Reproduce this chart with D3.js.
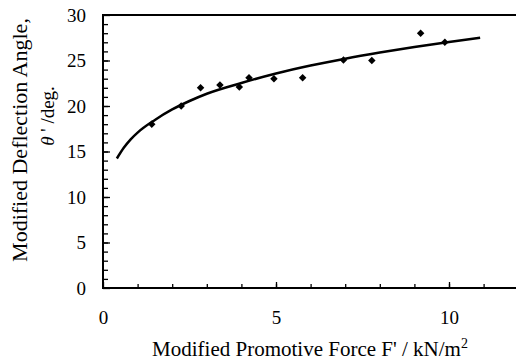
<!DOCTYPE html>
<html><head><meta charset="utf-8">
<script src="https://cdn.jsdelivr.net/npm/d3@7"></script>
<style>body{margin:0;background:#fff}svg{display:block}
text{font-family:"Liberation Serif","Times New Roman","DejaVu Serif",serif;}</style>
</head><body>
<svg id="c" width="516" height="362"></svg>
<script>
// measured data points
const forceX = [1.41, 2.26, 2.82, 3.38, 3.94, 4.22, 4.94, 5.77, 6.95, 7.77, 9.18, 9.88];
const angleY = [18.0, 20.0, 22.0, 22.3, 22.1, 23.1, 23.0, 23.1, 25.05, 25.0, 28.0, 27.0];
// fitted curve
const curveX = [0.4, 0.6, 0.8, 1, 1.5, 2, 2.5, 3, 4, 5, 6, 7, 8, 9, 10, 10.9];
const curveY = [14.23, 15.41, 16.34, 17.08, 18.47, 19.62, 20.55, 21.35, 22.53, 23.57, 24.44, 25.2, 25.87, 26.48, 27.04, 27.51];
const xTickLabels = [0, 5, 10];
const yTickLabels = [0, 5, 10, 15, 20, 25, 30];

const svg = d3.select('#c');
const x = d3.scaleLinear().domain([0, 12]).range([103, 518.2]);
const y = d3.scaleLinear().domain([0, 30]).range([288, 15]);
const font = '"Liberation Serif", "Times New Roman", serif';

// minor ticks
svg.append('g').attr('transform', 'translate(0,288)')
  .call(d3.axisBottom(x).tickValues(d3.range(1, 12)).tickSize(-4).tickFormat(''))
  .call(g => g.select('.domain').remove())
  .call(g => g.selectAll('line').attr('stroke', '#000').attr('stroke-width', 1.3));
svg.append('g').attr('transform', 'translate(103,0)')
  .call(d3.axisLeft(y).tickValues(d3.range(1, 30)).tickSize(-5).tickFormat(''))
  .call(g => g.select('.domain').remove())
  .call(g => g.selectAll('line').attr('stroke', '#000').attr('stroke-width', 1.3));
// major ticks with labels
svg.append('g').attr('transform', 'translate(0,288)')
  .call(d3.axisBottom(x).tickValues(xTickLabels).tickSize(-6).tickPadding(23).tickFormat(d3.format('d')))
  .call(g => g.select('.domain').remove())
  .call(g => g.selectAll('line').attr('stroke', '#000').attr('stroke-width', 1.3))
  .call(g => g.attr('font-family', null).attr('font-size', null))
  .call(g => g.selectAll('text').attr('fill', '#000').style('font-family', font).style('font-size', '19px'));
svg.append('g').attr('transform', 'translate(103,0)')
  .call(d3.axisLeft(y).tickValues(yTickLabels).tickSize(-7).tickPadding(17).tickFormat(d3.format('d')))
  .call(g => g.select('.domain').remove())
  .call(g => g.selectAll('line').attr('stroke', '#000').attr('stroke-width', 1.3))
  .call(g => g.attr('font-family', null).attr('font-size', null))
  .call(g => g.selectAll('text').attr('fill', '#000').style('font-family', font).style('font-size', '19px'));

// frame: left, bottom, top
svg.append('path')
  .attr('d', `M${x(12)},${y(30)}H${x(0)}V${y(0)}H${x(12)}`)
  .attr('fill', 'none').attr('stroke', '#000').attr('stroke-width', 2);

// curve
const pts = curveX.map((v, i) => [v, curveY[i]]);
svg.append('path')
  .datum(pts)
  .attr('d', d3.line().x(d => x(d[0])).y(d => y(d[1])).curve(d3.curveMonotoneX))
  .attr('fill', 'none').attr('stroke', '#000').attr('stroke-width', 2.5);

// points
svg.append('g').selectAll('path').data(forceX.map((v, i) => [v, angleY[i]])).join('path')
  .attr('d', d3.symbol(d3.symbolSquare, 28)())
  .attr('transform', d => `translate(${x(d[0])},${y(d[1])}) rotate(45)`)
  .attr('fill', '#000');

// axis titles
const xt = svg.append('text').attr('x', 310).attr('y', 356).attr('text-anchor', 'middle')
  .style('font-family', font).style('font-size', '21px').attr('fill', '#000');
xt.append('tspan').text("Modified Promotive Force F' / kN/m");
xt.append('tspan').attr('dy', -8).style('font-size', '14px').text('2');

svg.append('text').attr('transform', 'translate(27,140) rotate(-90)').attr('text-anchor', 'middle')
  .style('font-family', font).style('font-size', '22px').attr('fill', '#000')
  .text('Modified Deflection Angle,');
const yt2 = svg.append('text').attr('transform', 'translate(54,116) rotate(-90)').attr('text-anchor', 'middle')
  .style('font-family', font).style('font-size', '19px').attr('fill', '#000');
yt2.append('tspan').style('font-style', 'italic').text('θ');
yt2.append('tspan').text(" ' /deg.");
</script>
</body></html>
